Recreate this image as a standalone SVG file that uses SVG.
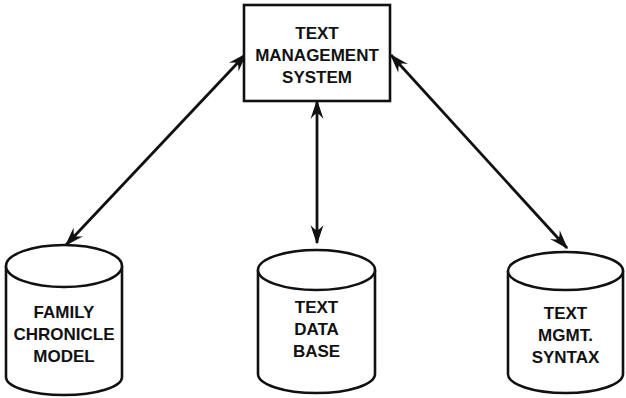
<svg xmlns="http://www.w3.org/2000/svg" width="626" height="398" viewBox="0 0 626 398">
  <defs>
    <!-- barbed arrowhead, tip at the path end -->
    <marker id="head" markerUnits="userSpaceOnUse" markerWidth="24" markerHeight="16" viewBox="-20 -8 22 16" refX="0" refY="0" orient="auto-start-reverse">
      <path d="M1.5,0 L-18,-6.5 Q-12,-1.2 -13,0 Q-12,1.2 -18,6.5 Z" fill="#111"/>
    </marker>
  </defs>
  <style>
    .shape { fill: #fff; stroke: #111; stroke-width: 2.6; }
    .link { fill: none; stroke: #111; stroke-width: 2.8; marker-start: url(#head); marker-end: url(#head); }
    .label { font-family: "Liberation Sans", Arial, sans-serif; font-weight: bold; font-size: 17px; fill: #111; text-anchor: middle; }
  </style>
  <rect width="626" height="398" fill="#fff"/>

  <g id="connectors">
    <line class="link" x1="246" y1="54" x2="66" y2="245"/>
    <line class="link" x1="317" y1="101" x2="317" y2="243"/>
    <line class="link" x1="391" y1="55" x2="567" y2="248"/>
  </g>

  <g id="text-management-system">
    <rect class="shape" x="244" y="5" width="146" height="96"/>
    <text class="label" x="317" y="39">TEXT</text>
    <text class="label" x="317" y="61">MANAGEMENT</text>
    <text class="label" x="317" y="83">SYSTEM</text>
  </g>

  <g id="family-chronicle-model">
    <path class="shape" d="M6,266 L6,377 A58,18 0 0 0 122,377 L122,266"/>
    <ellipse class="shape" cx="64" cy="266" rx="58" ry="21"/>
    <text class="label" x="64" y="318">FAMILY</text>
    <text class="label" x="64" y="340">CHRONICLE</text>
    <text class="label" x="64" y="362">MODEL</text>
  </g>

  <g id="text-data-base">
    <path class="shape" d="M258,270 L258,374 A58.5,19 0 0 0 375,374 L375,270"/>
    <ellipse class="shape" cx="316.5" cy="270" rx="58.5" ry="20"/>
    <text class="label" x="316.5" y="313">TEXT</text>
    <text class="label" x="316.5" y="335">DATA</text>
    <text class="label" x="316.5" y="357">BASE</text>
  </g>

  <g id="text-mgmt-syntax">
    <path class="shape" d="M508,271 L508,374 A57.5,19 0 0 0 623,374 L623,271"/>
    <ellipse class="shape" cx="565.5" cy="271" rx="57.5" ry="19"/>
    <text class="label" x="565.5" y="319">TEXT</text>
    <text class="label" x="565.5" y="341">MGMT.</text>
    <text class="label" x="565.5" y="363">SYNTAX</text>
  </g>
</svg>
